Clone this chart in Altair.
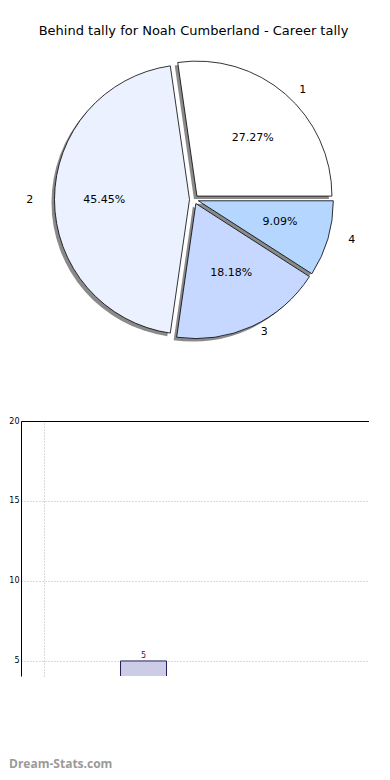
import altair as alt
import pandas as pd

# ---------------- data ----------------
chart_title = "Behind tally for Noah Cumberland - Career tally"
slice_labels = ["1", "2", "3", "4"]
slice_values = [3, 5, 2, 1]
slice_colors = ["#FFFFFF", "#EBF1FF", "#C6D8FF", "#B5D6FF"]

bar_categories = [1]
bar_values = [5]
y_ticks = [5, 10, 15, 20]
x_grid = [0]
watermark = "Dream-Stats.com"

# ---------------- styling / layout ----------------
R = 135            # wedge radius (px)
RX, RY = 142, 128  # label placement radii (the original pie is slightly oval)
CX, CY = 173, 153.5
EXPLODE = 4.5
SHADOW = 3
FONT = "DejaVu Sans"

pie_df = pd.DataFrame({"label": slice_labels, "value": slice_values,
                       "order": list(range(len(slice_labels)))})

base = (
    alt.Chart(pie_df)
    .transform_joinaggregate(total="sum(value)")
    .transform_window(cum="sum(value)", sort=[alt.SortField("order")], frame=[None, 0])
    .transform_calculate(
        a0="2*PI*(datum.cum - datum.value)/datum.total",
        a1="2*PI*datum.cum/datum.total",
    )
    .transform_calculate(
        m="(datum.a0 + datum.a1)/2",
        t0="PI/2 - datum.a1",
        t1="PI/2 - datum.a0",
        pct="format(datum.value/datum.total*100, '.2f') + '%'",
    )
    .transform_calculate(
        px=f"{CX} + {EXPLODE}*cos(datum.m)",
        py=f"{CY} - {EXPLODE}*sin(datum.m)",
    )
    .transform_calculate(
        sx=f"datum.px - {SHADOW}",
        sy=f"datum.py + {SHADOW}",
        lx=f"datum.px + {1.1 * RX}*cos(datum.m)",
        ly=f"datum.py - {1.1 * RY}*sin(datum.m)",
        qx=f"datum.px + {0.6 * RX}*cos(datum.m)",
        qy=f"datum.py - {0.6 * RY}*sin(datum.m)",
    )
)

theta = alt.Theta("t0:Q", scale=None, stack=None)
theta2 = alt.Theta2("t1:Q")

shadows = base.mark_arc(radius=R, fill="#8a8a8a").encode(
    x=alt.X("sx:Q", scale=None, axis=None),
    y=alt.Y("sy:Q", scale=None, axis=None),
    theta=theta, theta2=theta2,
)

wedges = base.mark_arc(radius=R, stroke="black", strokeWidth=0.8).encode(
    x=alt.X("px:Q", scale=None, axis=None),
    y=alt.Y("py:Q", scale=None, axis=None),
    theta=theta, theta2=theta2,
    fill=alt.Fill("label:N", scale=alt.Scale(domain=slice_labels, range=slice_colors), legend=None),
)

labels_right = base.transform_filter("cos(datum.m) >= 0").mark_text(
    align="left", baseline="middle", fontSize=11, font=FONT, color="black"
).encode(x=alt.X("lx:Q", scale=None), y=alt.Y("ly:Q", scale=None), text="label:N")

labels_left = base.transform_filter("cos(datum.m) < 0").mark_text(
    align="right", baseline="middle", fontSize=11, font=FONT, color="black"
).encode(x=alt.X("lx:Q", scale=None), y=alt.Y("ly:Q", scale=None), text="label:N")

pcts = base.mark_text(align="center", baseline="middle", fontSize=11, font=FONT, color="black").encode(
    x=alt.X("qx:Q", scale=None), y=alt.Y("qy:Q", scale=None), text="pct:N"
)

top = alt.layer(shadows, wedges, labels_right, labels_left, pcts).properties(
    width=345, height=346,
    title=alt.Title(chart_title, fontSize=13, font=FONT, fontWeight="normal",
                    anchor="middle", color="black", offset=8),
)

# ---------------- bar panel ----------------
bar_df = pd.DataFrame({"x": bar_categories, "v": bar_values})
xs = alt.Scale(domain=[-0.186, 3.225], nice=False, zero=False)
ys = alt.Scale(domain=[4.06, 20], nice=False, zero=False)

bars = alt.Chart(bar_df).mark_bar(
    size=46, clip=True, fill="#CCCCE6", stroke="#1F1F5C", strokeWidth=1
).encode(
    x=alt.X("x:Q", scale=xs, axis=alt.Axis(
        orient="top", values=x_grid, labels=False, ticks=False, title=None,
        domainColor="black", domainWidth=1, grid=True, gridDash=[1, 2],
        gridColor="#b4b4b4", gridWidth=1)),
    y=alt.Y("v:Q", scale=ys, axis=alt.Axis(
        values=y_ticks, title=None, ticks=False, labelPadding=2, labelFontSize=8,
        labelFont=FONT, labelColor="black", domainColor="black", domainWidth=1,
        grid=True, gridDash=[1, 2], gridColor="#b4b4b4", gridWidth=1)),
)

bar_text = alt.Chart(bar_df).mark_text(
    baseline="bottom", dy=-1, fontSize=8, font=FONT, color="#1F1F5C"
).encode(
    x=alt.X("x:Q", scale=xs),
    y=alt.Y("v:Q", scale=ys, axis=alt.Axis(
        orient="right", labels=False, ticks=False, title=None, grid=False,
        domainColor="black", domainWidth=1)),
    text="v:Q",
)

wm = alt.Chart(pd.DataFrame({"t": [watermark]})).mark_text(
    align="left", baseline="alphabetic", font="Open Sans", fontWeight="bold",
    fontSize=12, color="#9a9a9a"
).encode(x=alt.value(-12), y=alt.value(347), text="t:N")

bottom = alt.layer(bars, bar_text, wm).resolve_axis(y="independent").properties(
    width=348, height=255
)

chart = alt.vconcat(top, bottom, spacing=25).properties(
    padding={"top": 17, "left": 0, "right": 0, "bottom": 2}
).configure_view(stroke=None)

chart.save("out.html", embed_options={"renderer": "svg", "actions": False})
